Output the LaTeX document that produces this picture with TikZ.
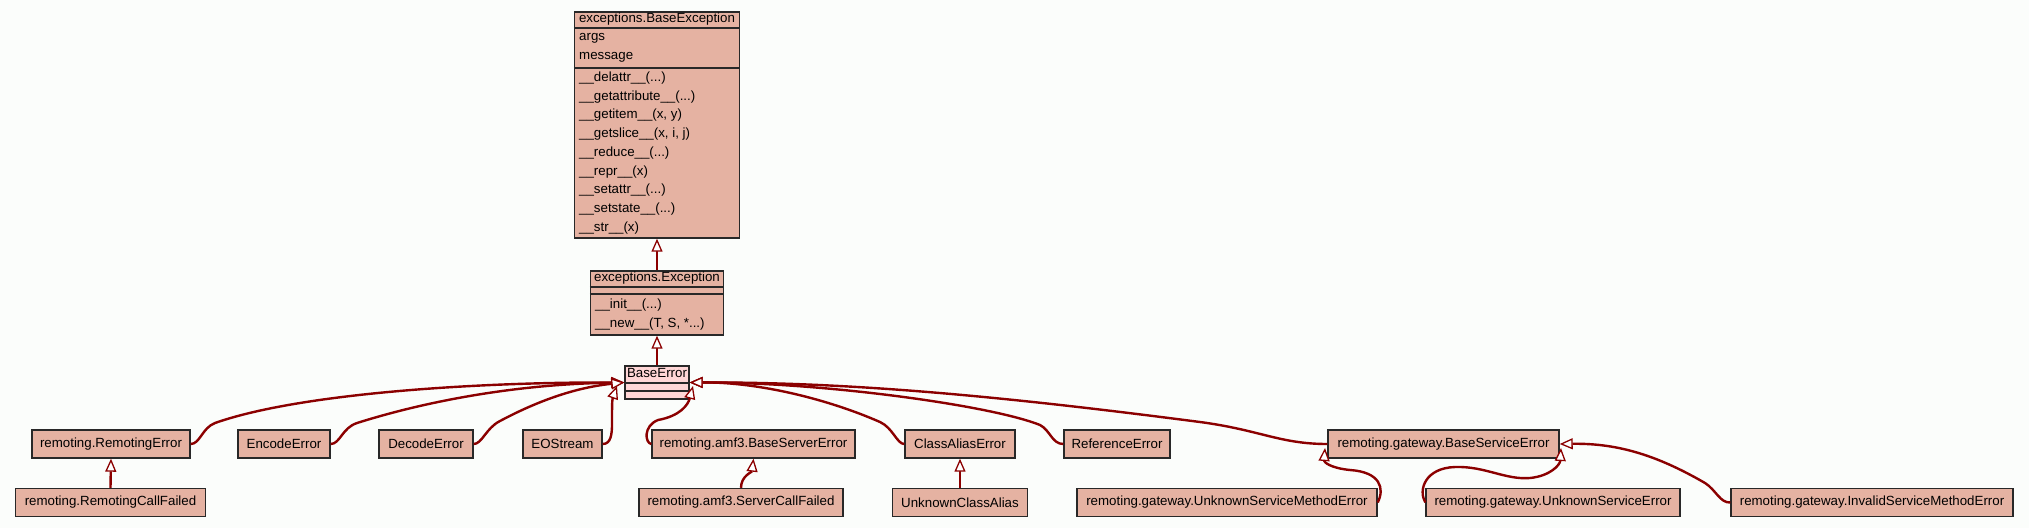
\documentclass[tikz,border=0pt]{standalone}
\usepackage{fontspec}
\setmainfont{Liberation Sans}
\usetikzlibrary{arrows.meta}
\definecolor{bg}{RGB}{251,253,251}
\definecolor{boxfill}{RGB}{229,178,162}
\definecolor{basefill}{RGB}{255,214,214}
\definecolor{boxline}{RGB}{40,40,40}
\definecolor{edgecol}{RGB}{139,0,0}
\tikzset{
  cls/.style={draw=boxline, fill=boxfill, line width=1.4pt, inner sep=0pt,
    minimum height=28pt, font=\fontsize{13.3}{16}\selectfont, text=black},
  txt/.style={inner sep=0pt, anchor=base west, font=\fontsize{13.3}{16}\selectfont},
  ttl/.style={inner sep=0pt, anchor=base, font=\fontsize{13.3}{16}\selectfont},
  inh/.style={draw=edgecol, line width=2.4pt,
    -{Triangle[length=13pt,width=11pt,fill=white,line width=1.3pt]}},
  sepline/.style={draw=boxline, line width=1.4pt}
}
\begin{document}
\begin{tikzpicture}[x=1pt,y=-1pt]
\fill[bg] (0,0) rectangle (2029,528);
\useasboundingbox (0,0) rectangle (2029,528);

% exceptions.BaseException
\node[cls, minimum width=165pt, minimum height=226pt] (bexc) at (657,125) {};
\draw[sepline] (bexc.west |- 0,28) -- (bexc.east |- 0,28);
\draw[sepline] (bexc.west |- 0,68) -- (bexc.east |- 0,68);
\node[ttl] (bexct) at (657,22) {exceptions.BaseException};
\node[txt] (a1) at (579,40) {args};
\node[txt] (a2) at (579,59.3) {message};
\node[txt] (m1) at (579,81.5) {\_\_delattr\_\_(...)};
\node[txt] (m2) at (579,100.2) {\_\_getattribute\_\_(...)};
\node[txt] (m3) at (579,118.9) {\_\_getitem\_\_(x, y)};
\node[txt] (m4) at (579,137.6) {\_\_getslice\_\_(x, i, j)};
\node[txt] (m5) at (579,156.3) {\_\_reduce\_\_(...)};
\node[txt] (m6) at (579,175) {\_\_repr\_\_(x)};
\node[txt] (m7) at (579,193.7) {\_\_setattr\_\_(...)};
\node[txt] (m8) at (579,212.4) {\_\_setstate\_\_(...)};
\node[txt] (m9) at (579,231.1) {\_\_str\_\_(x)};

% exceptions.Exception
\node[cls, minimum width=133pt, minimum height=64pt] (exc) at (657,303) {};
\draw[sepline] (exc.west |- 0,287) -- (exc.east |- 0,287);
\draw[sepline] (exc.west |- 0,294) -- (exc.east |- 0,294);
\node[ttl] (exct) at (657,281) {exceptions.Exception};
\node[txt] (e1) at (595,308.5) {\_\_init\_\_(...)};
\node[txt] (e2) at (595,327) {\_\_new\_\_(T, S, *...)};

% BaseError
\node[cls, fill=basefill, minimum width=64pt, minimum height=33pt] (be) at (657,382.5) {};
\draw[sepline] (be.west |- 0,383) -- (be.east |- 0,383);
\draw[sepline] (be.west |- 0,391) -- (be.east |- 0,391);
\node[ttl] (bet) at (657,377) {BaseError};

% second row
\node[cls, minimum width=158pt] (rem) at (111,444) {remoting.RemotingError};
\node[cls, minimum width=92pt] (enc) at (284,444) {EncodeError};
\node[cls, minimum width=94pt] (dec) at (426,444) {DecodeError};
\node[cls, minimum width=79pt] (eos) at (562.5,444) {EOStream};
\node[cls, minimum width=203pt] (bse) at (753.5,444) {remoting.amf3.BaseServerError};
\node[cls, minimum width=110pt] (cae) at (960,444) {ClassAliasError};
\node[cls, minimum width=106pt] (ref) at (1117,444) {ReferenceError};
\node[cls, minimum width=231pt] (bsve) at (1443.5,444) {remoting.gateway.BaseServiceError};

% third row
\node[cls, minimum width=190pt] (rcf) at (110.5,502.5) {remoting.RemotingCallFailed};
\node[cls, minimum width=204pt] (scf) at (741,502.5) {remoting.amf3.ServerCallFailed};
\node[cls, minimum width=135pt] (uca) at (960,502.5) {UnknownClassAlias};
\node[cls, minimum width=300pt] (usme) at (1227,502.5) {remoting.gateway.UnknownServiceMethodError};
\node[cls, minimum width=254pt] (use) at (1553,502.5) {remoting.gateway.UnknownServiceError};
\node[cls, minimum width=282pt] (isme) at (1872,502.5) {remoting.gateway.InvalidServiceMethodError};

% arrow end points beside the nodes
\coordinate (eostip) at (617,386);
\coordinate (bsetip) at (693,386);
\coordinate (usmetip) at (1325,448);
\coordinate (usetip) at (1561,448);

% inheritance edges
\draw[inh] (exc.north) -- (bexc.south);
\draw[inh] (be.north) -- (exc.south);
\draw[inh] (rcf.north) -- (rem.south);
\draw[inh] (uca.north) -- (cae.south);
\draw[inh] (scf.north) .. controls (741,476) and (752,472) .. (bse.south);

\draw[inh] (rem.east) .. controls (200,444) and (202,428) .. (215,423)
  .. controls (300,393) and (480,382) .. (be.west);
\draw[inh] (enc.east) .. controls (340,444) and (342,428) .. (357,423)
  .. controls (430,400) and (520,384) .. (be.west);
\draw[inh] (dec.east) .. controls (482,444) and (486,428) .. (500,421)
  .. controls (530,405) and (570,388) .. (be.west);
\draw[inh] (eos.east) .. controls (611,444) and (612,434) .. (612,424)
  .. controls (612,410) and (612,400) .. (eostip);
\draw[inh] (bse.west) .. controls (645,443) and (643,426) .. (658,420)
  .. controls (680,416) and (688,405) .. (bsetip);
\draw[inh] (cae.west) .. controls (897,444) and (893,428) .. (880,422)
  .. controls (830,400) and (760,382) .. (be.east);
\draw[inh] (ref.west) .. controls (1052,444) and (1050,430) .. (1040,425)
  .. controls (990,405) and (820,382) .. (be.east);
\draw[inh] (bsve.west) .. controls (1280,444) and (1260,430) .. (1200,422)
  .. controls (1000,396) and (850,382) .. (be.east);

\draw[inh] (usme.east) .. controls (1385,488) and (1380,472) .. (1350,470)
  .. controls (1330,468) and (1324,462) .. (usmetip);
\draw[inh] (use.west) .. controls (1418,490) and (1425,468) .. (1455,467)
  .. controls (1485,466) and (1505,480) .. (1530,478)
  .. controls (1550,476) and (1560,465) .. (usetip);
\draw[inh] (isme.west) .. controls (1720,503) and (1716,490) .. (1705,483)
  .. controls (1660,457) and (1620,443) .. (bsve.east);
\end{tikzpicture}
\end{document}
